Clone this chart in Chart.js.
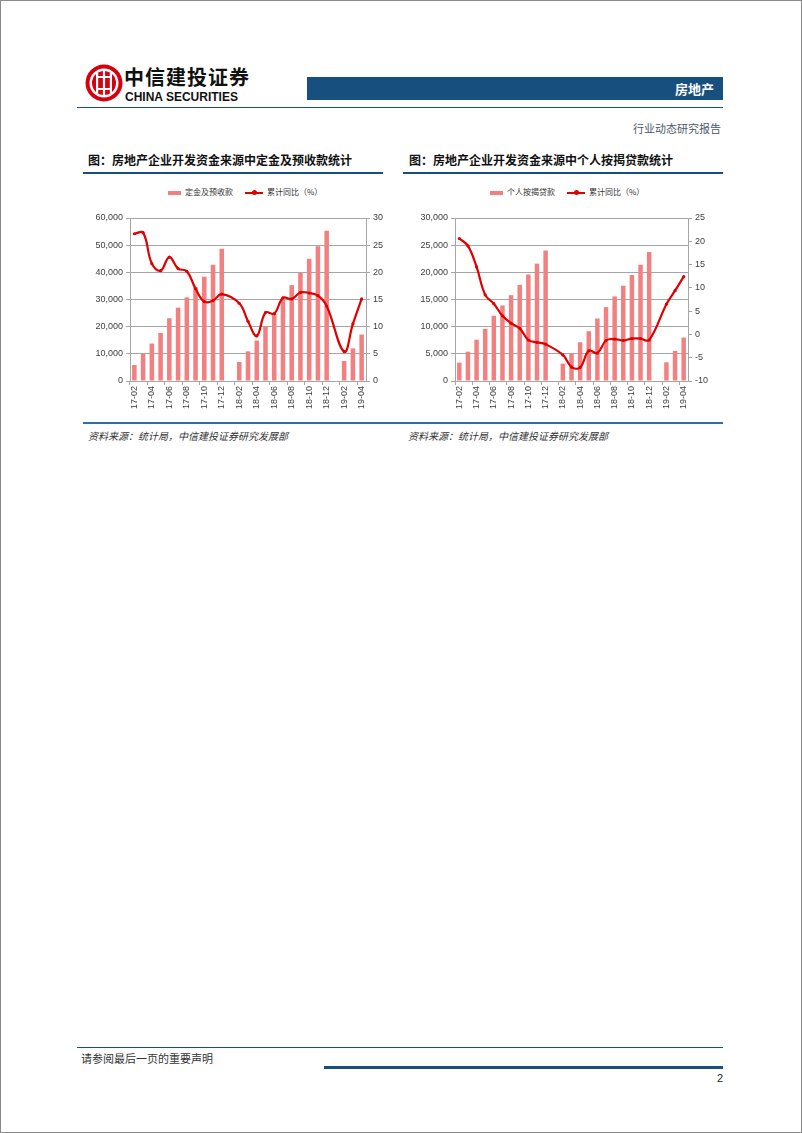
<!DOCTYPE html>
<html lang="zh">
<head>
<meta charset="UTF-8">
<title>房地产 行业动态研究报告</title>
<script src="https://cdn.jsdelivr.net/npm/chart.js"></script>
<style>
    html, body { margin: 0; padding: 0; }
    body {
        width: 800px; height: 1131px;
        border: 1px solid #8a8a8a;
        position: relative; background: #fff;
        font-family: "Noto Sans CJK SC", "Liberation Sans", sans-serif;
        overflow: hidden;
    }
    .abs { position: absolute; }
    .brand-cn { left: 123px; top: 65px; font-size: 20px; line-height: 22px; font-weight: 700; color: #111; letter-spacing: 1px; }
    .brand-en { left: 124px; top: 90px; font-family: "Liberation Sans", Arial, sans-serif; font-size: 12px; line-height: 12px; font-weight: 700; color: #111; }
    .topbar { left: 306px; top: 76px; width: 416px; height: 23px; background: #17507f; }
    .topbar span { position: absolute; right: 9px; top: 2px; color: #fff; font-size: 13px; font-weight: 700; }
    .hline { background: #17507f; }
    .doctype { right: 80px; top: 119px; font-size: 11px; color: #4a5a6a; }
    .ctitle { top: 150px; font-size: 12px; font-weight: 700; color: #111; }
    .legend { top: 185px; font-size: 8px; color: #333; white-space: nowrap; }
    .legend i { display: inline-block; vertical-align: middle; }
    .sw-bar { width: 13px; height: 4px; background: rgb(242, 128, 128); margin-right: 4px; }
    .sw-line { width: 18px; height: 2px; background: #e00000; position: relative; margin: 0 4px 0 12px; }
    .sw-line:after { content: ""; position: absolute; left: 7px; top: -1.5px; width: 5px; height: 5px; border-radius: 50%; background: #e00000; }
    .src { top: 427px; font-size: 10px; font-style: italic; color: #333; }
    .box { position: absolute; }
    .foot { left: 80px; top: 1049px; font-size: 11px; color: #333; }
    .pageno { left: 716px; top: 1071px; font-size: 11px; color: #222; font-family: "Liberation Sans", Arial, sans-serif; }
</style>
</head>
<body>

<!-- header -->
<svg class="abs" style="left:83px;top:62px" width="40" height="40" viewBox="0 0 40 40">
    <circle cx="20" cy="20" r="18.5" fill="#d7000f"/>
    <circle cx="20" cy="20" r="14.5" fill="#fff"/>
    <circle cx="20" cy="20" r="12" fill="#d7000f"/>
    <rect x="12" y="10" width="2.2" height="20" fill="#fff"/>
    <rect x="18.9" y="8" width="2.2" height="24" fill="#fff"/>
    <rect x="25.8" y="10" width="2.2" height="20" fill="#fff"/>
    <rect x="12" y="13" width="16" height="2" fill="#fff"/>
    <rect x="12" y="25" width="16" height="2" fill="#fff"/>
</svg>
<div class="abs brand-cn">中信建投证券</div>
<div class="abs brand-en">CHINA SECURITIES</div>
<div class="abs topbar"><span>房地产</span></div>
<div class="abs hline" style="left:76px;top:106px;width:646px;height:1px"></div>
<div class="abs doctype">行业动态研究报告</div>

<!-- chart titles -->
<div class="abs ctitle" style="left:87px">图：房地产企业开发资金来源中定金及预收款统计</div>
<div class="abs ctitle" style="left:408px">图：房地产企业开发资金来源中个人按揭贷款统计</div>
<div class="abs hline" style="left:82px;top:171px;width:300px;height:1.5px"></div>
<div class="abs hline" style="left:402px;top:171px;width:320px;height:1.5px"></div>

<!-- legends -->
<div class="abs legend" style="left:167px"><i class="sw-bar"></i>定金及预收款<i class="sw-line"></i>累计同比（%）</div>
<div class="abs legend" style="left:489px"><i class="sw-bar"></i>个人按揭贷款<i class="sw-line"></i>累计同比（%）</div>

<div class="box" style="left:80px;top:206px;width:310px;height:206px"><canvas id="depositChart"></canvas></div>
<div class="box" style="left:405px;top:206px;width:307px;height:206px"><canvas id="mortgageChart"></canvas></div>

<!-- source -->
<div class="abs" style="left:82px;top:421px;width:640px;height:2px;background:#2f6fa8"></div>
<div class="abs src" style="left:87px">资料来源：统计局，中信建投证券研究发展部</div>
<div class="abs src" style="left:407px">资料来源：统计局，中信建投证券研究发展部</div>

<!-- footer -->
<div class="abs hline" style="left:76px;top:1046px;width:646px;height:1px"></div>
<div class="abs foot">请参阅最后一页的重要声明</div>
<div class="abs hline" style="left:323px;top:1065px;width:399px;height:3px"></div>
<div class="abs pageno">2</div>

<script>
// months 17-02 .. 19-04, January has no data
const months = ['17-02','17-03','17-04','17-05','17-06','17-07','17-08','17-09','17-10','17-11','17-12',
    '18-01','18-02','18-03','18-04','18-05','18-06','18-07','18-08','18-09','18-10','18-11','18-12',
    '19-01','19-02','19-03','19-04'];

// 定金及预收款 (亿元) and 累计同比
const depositValues = [5900, 10000, 13800, 17700, 23100, 27000, 30800, 34500, 38400, 42800, 48700,
    null, 7000, 10900, 14900, 20000, 24800, 30000, 35300, 39800, 45000, 49600, 55300,
    null, 7350, 12000, 17100];
const depositYoy = [27.1, 27.3, 21.6, 20.3, 22.8, 20.7, 20.2, 17.0, 14.6, 14.8, 16.0,
    null, 14.3, 11.0, 8.3, 12.6, 12.4, 15.3, 15.1, 16.3, 16.2, 15.7, 13.8,
    null, 5.4, 10.5, 15.1];

// 个人按揭贷款 (亿元) and 累计同比
const mortgageValues = [3380, 5400, 7600, 9600, 12000, 13900, 15800, 17700, 19600, 21600, 24000,
    null, 3200, 5100, 7130, 9160, 11500, 13600, 15560, 17530, 19500, 21400, 23740,
    null, 3440, 5540, 8000];
const mortgageYoy = [20.6, 19.0, 14.5, 8.5, 6.6, 4.0, 2.4, 1.3, -1.2, -1.7, -2.1,
    null, -4.4, -7.0, -7.1, -3.5, -4.0, -1.3, -1.0, -1.3, -0.9, -0.9, -1.2,
    null, 6.5, 9.4, 12.4];

const leftTicks1 = { min: 0, max: 60000, step: 10000 };
const rightTicks1 = { min: 0, max: 30, step: 5 };
const leftTicks2 = { min: 0, max: 30000, step: 5000 };
const rightTicks2 = { min: -10, max: 25, step: 5 };

const barColor = 'rgb(242, 128, 128)';
const lineColor = '#e00000';
const gridColor = '#a6a6a6';
const tickFont = { family: '"Liberation Sans", Arial, sans-serif', size: 9 };

function makeChart(id, barLabel, bars, yoy, lt, rt) {
    const ctx = document.getElementById(id).getContext('2d');
    return new Chart(ctx, {
        data: {
            labels: months,
            datasets: [
                {
                    type: 'line',
                    label: '累计同比（%）',
                    data: yoy,
                    yAxisID: 'y1',
                    borderColor: lineColor,
                    backgroundColor: lineColor,
                    borderWidth: 2.2,
                    pointRadius: 1.6,
                    pointBorderWidth: 0,
                    pointHoverRadius: 1.6,
                    tension: 0.4,
                    spanGaps: true,
                    order: 0
                },
                {
                    type: 'bar',
                    label: barLabel,
                    data: bars,
                    yAxisID: 'y',
                    backgroundColor: barColor,
                    barPercentage: 0.52,
                    categoryPercentage: 1,
                    order: 1
                }
            ]
        },
        options: {
            responsive: true,
            maintainAspectRatio: false,
            animation: false,
            layout: { padding: { top: 11, bottom: 0, left: 0, right: 0 } },
            plugins: { legend: { display: false }, tooltip: { enabled: false } },
            scales: {
                x: {
                    afterFit: s => { s.height = 32; },
                    grid: {
                        drawOnChartArea: false,
                        tickLength: 4,
                        color: c => (c.index % 2 === 0 ? gridColor : 'rgba(0,0,0,0)')
                    },
                    border: { color: gridColor },
                    ticks: {
                        autoSkip: false,
                        minRotation: 90,
                        maxRotation: 90,
                        padding: 1,
                        font: tickFont,
                        color: '#404040',
                        callback: (v, i) => (i % 2 === 0 ? months[i] : '')
                    }
                },
                y: {
                    position: 'left',
                    min: lt.min, max: lt.max,
                    afterFit: s => { s.width = 49; },
                    grid: { color: gridColor, tickLength: 4 },
                    border: { color: gridColor },
                    ticks: {
                        stepSize: lt.step,
                        font: tickFont,
                        color: '#404040',
                        padding: 3,
                        callback: v => v.toLocaleString('en-US')
                    }
                },
                y1: {
                    position: 'right',
                    min: rt.min, max: rt.max,
                    afterFit: s => { s.width = 25; },
                    grid: { drawOnChartArea: false, color: gridColor, tickLength: 4 },
                    border: { color: gridColor },
                    ticks: { stepSize: rt.step, font: tickFont, color: '#404040', padding: 3 }
                }
            }
        }
    });
}

makeChart('depositChart', '定金及预收款', depositValues, depositYoy, leftTicks1, rightTicks1);
makeChart('mortgageChart', '个人按揭贷款', mortgageValues, mortgageYoy, leftTicks2, rightTicks2);
</script>
</body>
</html>
